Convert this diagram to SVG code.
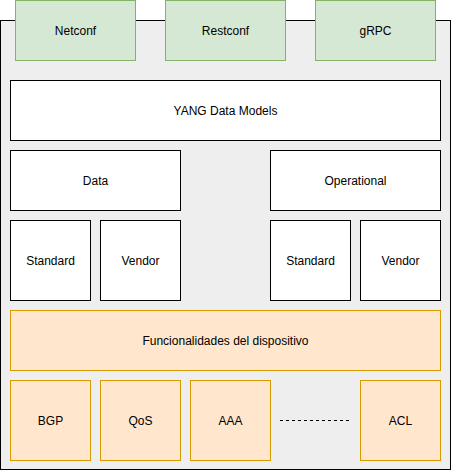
<svg xmlns="http://www.w3.org/2000/svg" width="451" height="471" viewBox="0 0 451 471">
<style>
.w{fill:#ffffff;stroke:#000000;stroke-width:1}
.g{fill:#d5e8d4;stroke:#82b366;stroke-width:1}
.o{fill:#ffe6cc;stroke:#d79b00;stroke-width:1}
text{font-family:"Liberation Sans",Arial,sans-serif;font-size:12px;fill:#000000;text-anchor:middle;dominant-baseline:central}
</style>
<g id="container"><rect x="0.5" y="20.5" width="450" height="449" fill="#eeeeee" stroke="#000000"/></g>
<g id="netconf"><rect class="g" x="15.5" y="0.5" width="120" height="60"/><text x="75.5" y="30.5">Netconf</text></g>
<g id="restconf"><rect class="g" x="165.5" y="0.5" width="120" height="60"/><text x="225.5" y="30.5">Restconf</text></g>
<g id="grpc"><rect class="g" x="315.5" y="0.5" width="120" height="60"/><text x="375.5" y="30.5">gRPC</text></g>
<g id="yang"><rect class="w" x="10.5" y="80.5" width="430" height="60"/><text x="225.5" y="110.5">YANG Data Models</text></g>
<g id="data"><rect class="w" x="10.5" y="150.5" width="170" height="60"/><text x="95.5" y="180.5">Data</text></g>
<g id="operational"><rect class="w" x="270.5" y="150.5" width="170" height="60"/><text x="355.5" y="180.5">Operational</text></g>
<g id="standard1"><rect class="w" x="10.5" y="220.5" width="80" height="80"/><text x="50.5" y="260.5">Standard</text></g>
<g id="vendor1"><rect class="w" x="100.5" y="220.5" width="80" height="80"/><text x="140.5" y="260.5">Vendor</text></g>
<g id="standard2"><rect class="w" x="270.5" y="220.5" width="80" height="80"/><text x="310.5" y="260.5">Standard</text></g>
<g id="vendor2"><rect class="w" x="360.5" y="220.5" width="80" height="80"/><text x="400.5" y="260.5">Vendor</text></g>
<g id="func"><rect class="o" x="10.5" y="310.5" width="430" height="60"/><text x="225.5" y="340.5">Funcionalidades del dispositivo</text></g>
<g id="bgp"><rect class="o" x="10.5" y="380.5" width="80" height="80"/><text x="50.5" y="420.5">BGP</text></g>
<g id="qos"><rect class="o" x="100.5" y="380.5" width="80" height="80"/><text x="140.5" y="420.5">QoS</text></g>
<g id="aaa"><rect class="o" x="190.5" y="380.5" width="80" height="80"/><text x="230.5" y="420.5">AAA</text></g>
<g id="acl"><rect class="o" x="360.5" y="380.5" width="80" height="80"/><text x="400.5" y="420.5">ACL</text></g>
<g id="connectors"><line x1="280" y1="420.5" x2="350" y2="420.5" stroke="#000000" stroke-dasharray="3 3"/></g>
</svg>
